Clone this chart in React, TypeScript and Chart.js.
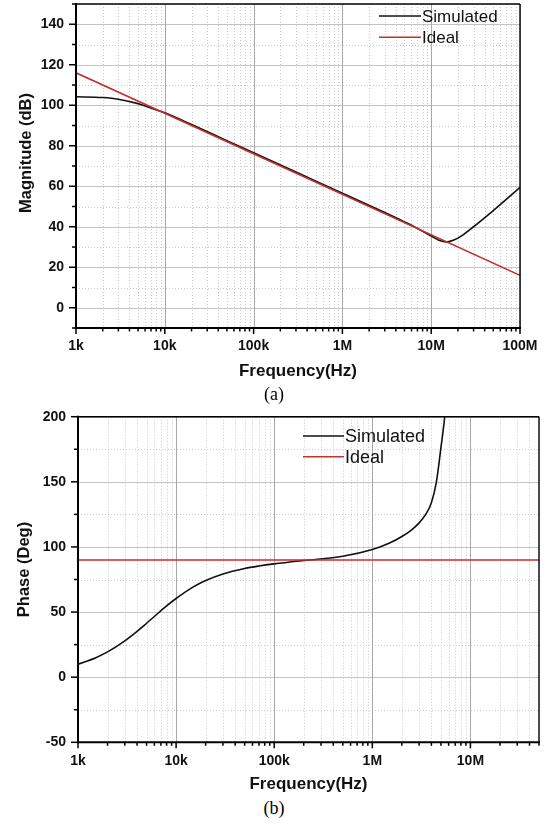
import React, { useEffect, useRef } from 'react';
import { Chart, registerables } from 'chart.js';

Chart.register(...registerables);

// ---------- data ----------
const seriesLabels = ['Simulated', 'Ideal'];

const decadeValues = [1e3, 1e4, 1e5, 1e6, 1e7, 1e8];
const decadeLabels = ['1k', '10k', '100k', '1M', '10M', '100M'];

const magFreq = [1e3, 2e3, 3e3, 5e3, 7e3, 1e4, 2e4, 5e4, 1e5, 3e5, 1e6, 3e6, 5e6, 7e6, 1e7, 1.2e7, 1.5e7, 1.8e7, 2.2e7, 3e7, 5e7, 7e7, 1e8];
const magSimulated = [104.2, 103.8, 103.0, 100.8, 98.6, 96.3, 90.5, 82.5, 76.5, 67.0, 56.6, 47.0, 42.4, 39.2, 35.4, 33.5, 32.5, 33.4, 35.5, 40.0, 48.0, 53.5, 59.5];
const magIdealFreq = [1e3, 1e8];
const magIdeal = [116, 16];
const magYLabels = [0, 20, 40, 60, 80, 100, 120, 140];

const phaseFreq = [1e3, 1.5e3, 2e3, 3e3, 4e3, 5e3, 6e3, 8e3, 1e4, 1.5e4, 2e4, 3e4, 5e4, 7e4, 1e5, 2e5, 5e5, 1e6, 1.5e6, 2e6, 2.5e6, 3e6, 3.5e6, 4e6, 4.5e6, 5e6, 5.5e6, 6e6];
const phaseSimulated = [10, 14.8, 19.4, 27.9, 35.2, 41.4, 46.6, 54.7, 60.4, 69.3, 74.2, 79.3, 83.5, 85.4, 87.0, 89.6, 92.8, 98.0, 103.0, 108.0, 113.0, 118.5, 125.0, 134.0, 150.0, 176.0, 202.0, 240.0];
const phaseIdealFreq = [1e3, 5e7];
const phaseIdeal = [90, 90];
const phaseYLabels = [-50, 0, 50, 100, 150, 200];

// ---------- helpers ----------
const SANS = '"Liberation Sans", Arial, sans-serif';
const BLACK = '#111111';
const RED = '#c42f2f';

const isDecade = (v: number) => {
  const l = Math.log10(v);
  return Math.abs(l - Math.round(l)) < 1e-6;
};

const toPoints = (xs: number[], ys: number[]) => xs.map((x, i) => ({ x, y: ys[i] }));

type Cfg = {
  width: number;
  height: number;
  area: { left: number; top: number; right: number; bottom: number };
  xMin: number;
  xMax: number;
  yMin: number;
  yMax: number;
  yStep: number;
  yLabels: number[];
  yTitle: string;
  yTitleX: number;
  yTitleY: number;
  legend: { x1: number; x2: number; y: number; gap: number; size: number };
  sim: { x: number; y: number }[];
  ideal: { x: number; y: number }[];
};

function BodeChart({ cfg, top }: { cfg: Cfg; top: number }) {
  const ref = useRef<HTMLCanvasElement | null>(null);

  useEffect(() => {
    if (!ref.current) return;
    const { area } = cfg;

    const line = (ctx: CanvasRenderingContext2D, x1: number, y1: number, x2: number, y2: number) => {
      ctx.beginPath();
      ctx.moveTo(x1, y1);
      ctx.lineTo(x2, y2);
      ctx.stroke();
    };

    const decor = {
      id: 'bodeDecor',
      beforeDatasetsDraw(chart: any) {
        const { ctx, chartArea } = chart;
        const { left, right, top: t, bottom } = chartArea;
        const xs = chart.scales.x;
        const ys = chart.scales.y;
        ctx.save();
        ctx.lineWidth = 1;
        // minor grid (dotted)
        ctx.setLineDash([1, 2]);
        ctx.strokeStyle = '#cccccc';
        for (const tk of xs.ticks) {
          if (isDecade(tk.value)) continue;
          const px = Math.round(xs.getPixelForValue(tk.value)) + 0.5;
          line(ctx, px, t, px, bottom);
        }
        for (const tk of ys.ticks) {
          if (cfg.yLabels.includes(tk.value)) continue;
          const py = Math.round(ys.getPixelForValue(tk.value)) + 0.5;
          line(ctx, left, py, right, py);
        }
        ctx.setLineDash([]);
        // major grid
        ctx.strokeStyle = '#c4c4c4';
        for (const tk of ys.ticks) {
          if (!cfg.yLabels.includes(tk.value)) continue;
          const py = Math.round(ys.getPixelForValue(tk.value)) + 0.5;
          line(ctx, left, py, right, py);
        }
        ctx.strokeStyle = '#a8a8a8';
        for (const tk of xs.ticks) {
          if (!isDecade(tk.value)) continue;
          const px = Math.round(xs.getPixelForValue(tk.value)) + 0.5;
          line(ctx, px, t, px, bottom);
        }
        ctx.restore();
      },
      afterDraw(chart: any) {
        const { ctx, chartArea } = chart;
        const { left, right, top: t, bottom } = chartArea;
        const xs = chart.scales.x;
        const ys = chart.scales.y;
        ctx.save();
        ctx.strokeStyle = '#000';
        // top / right frame
        ctx.lineWidth = 1.4;
        line(ctx, left, t, right, t);
        line(ctx, right, t, right, bottom);
        // left / bottom axes
        ctx.lineWidth = 2;
        line(ctx, left, t - 1, left, bottom + 1);
        line(ctx, left - 1, bottom, right + 1, bottom);
        // tick marks
        ctx.lineWidth = 1.5;
        for (const tk of ys.ticks) {
          const py = ys.getPixelForValue(tk.value);
          const len = cfg.yLabels.includes(tk.value) ? 7 : 4;
          line(ctx, left - len, py, left, py);
        }
        for (const tk of xs.ticks) {
          const px = xs.getPixelForValue(tk.value);
          const len = isDecade(tk.value) ? 6 : 3.5;
          line(ctx, px, bottom, px, bottom + len);
        }
        // legend
        const lg = cfg.legend;
        chart.data.datasets.forEach((ds: any, i: number) => {
          const y = lg.y + i * lg.gap;
          ctx.strokeStyle = ds.borderColor;
          ctx.lineWidth = 1.6;
          line(ctx, lg.x1, y, lg.x2, y);
          ctx.fillStyle = BLACK;
          ctx.font = `${lg.size}px ${SANS}`;
          ctx.textAlign = 'left';
          ctx.textBaseline = 'middle';
          ctx.fillText(ds.label, lg.x2 + 1, y + 1);
        });
        // y title
        ctx.translate(cfg.yTitleX, cfg.yTitleY);
        ctx.rotate(-Math.PI / 2);
        ctx.fillStyle = BLACK;
        ctx.font = `bold 16.5px ${SANS}`;
        ctx.textAlign = 'center';
        ctx.textBaseline = 'middle';
        ctx.fillText(cfg.yTitle, 0, 0);
        ctx.restore();
      },
    };

    const chart = new Chart(ref.current, {
      type: 'line',
      data: {
        datasets: [
          {
            label: seriesLabels[0],
            data: cfg.sim,
            borderColor: BLACK,
            borderWidth: 1.6,
            pointRadius: 0,
            cubicInterpolationMode: 'monotone',
            fill: false,
            order: 1,
          },
          {
            label: seriesLabels[1],
            data: cfg.ideal,
            borderColor: RED,
            borderWidth: 1.6,
            pointRadius: 0,
            fill: false,
            order: 0,
          },
        ],
      },
      options: {
        animation: false,
        responsive: false,
        devicePixelRatio: 1,
        events: [],
        layout: {
          padding: { top: area.top, right: cfg.width - area.right, left: 0, bottom: 0 },
        },
        plugins: { legend: { display: false }, tooltip: { enabled: false } },
        scales: {
          x: {
            type: 'logarithmic',
            min: cfg.xMin,
            max: cfg.xMax,
            grid: { display: false, drawTicks: false },
            border: { display: false },
            ticks: {
              autoSkip: false,
              maxRotation: 0,
              minRotation: 0,
              padding: 10,
              color: BLACK,
              font: { family: SANS, size: 14, weight: 'bold' },
              callback: (value: any) => {
                const i = decadeValues.findIndex((d) => Math.abs(d - Number(value)) / d < 1e-6);
                return i >= 0 ? decadeLabels[i] : '';
              },
            },
            title: {
              display: true,
              text: 'Frequency(Hz)',
              color: BLACK,
              font: { family: SANS, size: 17, weight: 'bold' },
              padding: { top: 0, bottom: 0 },
            },
            afterBuildTicks: (scale: any) => {
              const ticks: { value: number }[] = [];
              for (const d of decadeValues) {
                for (let m = 1; m <= 9; m++) {
                  const v = m * d;
                  if (v >= cfg.xMin * (1 - 1e-9) && v <= cfg.xMax * (1 + 1e-9)) ticks.push({ value: v });
                }
              }
              scale.ticks = ticks;
            },
            afterFit: (scale: any) => {
              scale.height = cfg.height - area.bottom;
              scale.paddingLeft = 0;
              scale.paddingRight = 0;
            },
          },
          y: {
            type: 'linear',
            min: cfg.yMin,
            max: cfg.yMax,
            grid: { display: false, drawTicks: false },
            border: { display: false },
            ticks: {
              stepSize: cfg.yStep,
              autoSkip: false,
              padding: 12,
              color: BLACK,
              font: { family: SANS, size: 14, weight: 'bold' },
              callback: (value: any) => (cfg.yLabels.includes(Number(value)) ? String(value) : ''),
            },
            afterFit: (scale: any) => {
              scale.width = area.left;
              scale.paddingTop = 0;
              scale.paddingBottom = 0;
            },
          },
        },
      } as any,
      plugins: [decor],
    });

    return () => chart.destroy();
  }, [cfg]);

  return (
    <canvas
      ref={ref}
      width={cfg.width}
      height={cfg.height}
      style={{ position: 'absolute', left: 0, top, width: cfg.width, height: cfg.height }}
    />
  );
}

const magCfg: Cfg = {
  width: 548,
  height: 382,
  area: { left: 76, top: 4, right: 520, bottom: 328 },
  xMin: 1e3,
  xMax: 1e8,
  yMin: -10,
  yMax: 150,
  yStep: 10,
  yLabels: magYLabels,
  yTitle: 'Magnitude (dB)',
  yTitleX: 26,
  yTitleY: 153,
  legend: { x1: 379, x2: 421, y: 16, gap: 21.3, size: 17 },
  sim: toPoints(magFreq, magSimulated),
  ideal: toPoints(magIdealFreq, magIdeal),
};

const phaseCfg: Cfg = {
  width: 548,
  height: 395,
  area: { left: 78, top: 16.7, right: 539, bottom: 342.3 },
  xMin: 1e3,
  xMax: 5e7,
  yMin: -50,
  yMax: 200,
  yStep: 25,
  yLabels: phaseYLabels,
  yTitle: 'Phase (Deg)',
  yTitleX: 24.5,
  yTitleY: 169.5,
  legend: { x1: 303, x2: 344, y: 36, gap: 20.7, size: 18 },
  sim: toPoints(phaseFreq, phaseSimulated),
  ideal: toPoints(phaseIdealFreq, phaseIdeal),
};

export default function App() {
  const caption: React.CSSProperties = {
    position: 'absolute',
    left: 0,
    width: 548,
    textAlign: 'center',
    fontFamily: '"Liberation Serif", "Times New Roman", serif',
    fontSize: 18,
    lineHeight: '22px',
    color: '#000',
  };
  return (
    <div style={{ position: 'absolute', left: 0, top: 0, width: 548, height: 825, background: '#fff', overflow: 'hidden' }}>
      <BodeChart cfg={magCfg} top={0} />
      <BodeChart cfg={phaseCfg} top={400} />
      <div style={{ ...caption, top: 383 }}>(a)</div>
      <div style={{ ...caption, top: 797 }}>(b)</div>
    </div>
  );
}
